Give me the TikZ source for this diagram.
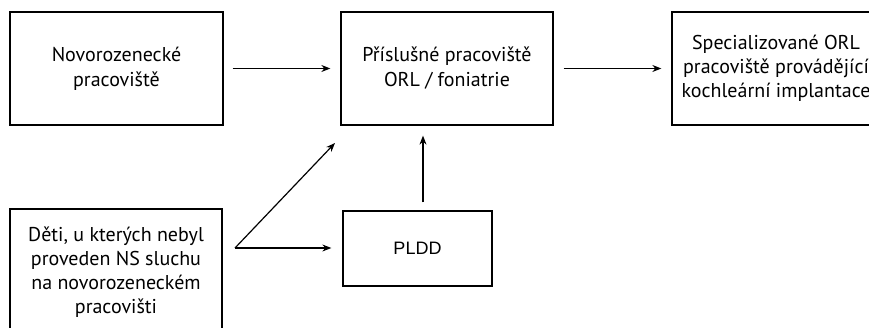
\documentclass[tikz,border=0pt]{standalone}
\usepackage{fontspec}
\setmainfont{PT Sans}
\newfontfamily\arialfont{Liberation Sans}
\usetikzlibrary{arrows.meta}
\begin{document}
\begin{tikzpicture}[x=1pt,y=-1pt,
  box/.style={draw,line width=1.3pt,rectangle,inner sep=0pt,align=center,
    font=\fontsize{20}{25}\selectfont},
  arr/.style={line width=1.2pt,-{Stealth[length=9pt,width=7pt]}}]
\useasboundingbox (0,0) rectangle (869,328);
\node[box,minimum width=213pt,minimum height=113pt] (A) at (116.5,68.5) {Novorozenecké\\pracoviště};
\node[box,minimum width=212pt,minimum height=113pt] (B) at (447,68.5) {Příslušné pracoviště\\ORL / foniatrie};
\node[box,minimum width=208pt,minimum height=113pt,font=\fontsize{20}{24}\selectfont] (C) at (776,68.5) {Specializované ORL\\pracoviště provádějící\\kochleární implantace};
\node[box,minimum width=212pt,minimum height=126pt,font=\fontsize{20}{24}\selectfont] (D) at (116,272) {Děti, u kterých nebyl\\proveden NS sluchu\\na novorozeneckém\\pracovišti};
\node[box,minimum width=149pt,minimum height=75pt,font=\arialfont\fontsize{18}{20}\selectfont] (E) at (417.5,248.5) {PLDD};
\coordinate (fork) at (235,248);
\coordinate (tipB) at (335,143);
\draw[arr,shorten <=9pt,shorten >=10pt] (A) -- (B);
\draw[arr,shorten <=10pt,shorten >=10pt] (B) -- (C);
\draw[arr] (fork) -- (tipB);
\draw[arr,shorten >=11pt] (fork) -- (E.west |- fork);
\draw[arr,shorten <=8pt,shorten >=10pt] ([xshift=5.5pt]E.north) -- ([xshift=-24pt]B.south);
\end{tikzpicture}
\end{document}
